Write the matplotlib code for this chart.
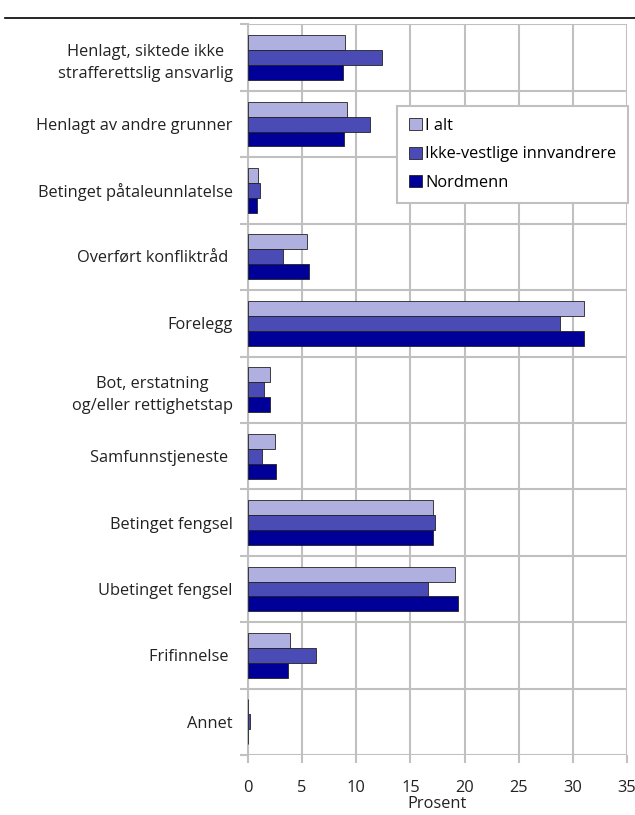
import numpy as np
import matplotlib
matplotlib.use("Agg")
from matplotlib import pyplot as plt
from matplotlib.lines import Line2D

plt.rcParams['font.family'] = ['Open Sans', 'DejaVu Sans']

categories = [
    "Henlagt, siktede ikke\nstrafferettslig ansvarlig",
    "Henlagt av andre grunner",
    "Betinget påtaleunnlatelse",
    "Overført konfliktråd ",
    "Forelegg",
    "Bot, erstatning\nog/eller rettighetstap",
    "Samfunnstjeneste ",
    "Betinget fengsel",
    "Ubetinget fengsel",
    "Frifinnelse ",
    "Annet",
]
i_alt = [9.0, 9.1, 0.95, 5.4, 31.0, 2.0, 2.5, 17.1, 19.1, 3.9, 0.02]
ikke_vestlige = [12.4, 11.3, 1.1, 3.2, 28.8, 1.5, 1.3, 17.25, 16.6, 6.3, 0.2]
nordmenn = [8.8, 8.9, 0.85, 5.6, 31.0, 2.0, 2.6, 17.1, 19.35, 3.7, 0.02]

series = [("I alt", i_alt, "#b0b0e0"),
          ("Ikke-vestlige innvandrere", ikke_vestlige, "#4b4bb5"),
          ("Nordmenn", nordmenn, "#000099")]

fs = 11.8
fig = plt.figure(figsize=(6.35, 8.15), dpi=100)
ax = fig.add_axes([0.3906, 0.0736, 0.5969, 0.8964])

y = np.arange(len(categories))
h = 0.225
for k, (name, vals, col) in enumerate(series):
    ax.barh(y + (k - 1) * h, vals, height=h, color=col, edgecolor="#222222",
            linewidth=0.6, label=name, zorder=3)

ax.set_xlim(0, 35)
ax.set_ylim(len(categories) - 0.5, -0.5)
ax.set_xticks(np.arange(0, 36, 5))
ax.set_yticks(y)
ax.set_yticklabels(categories, ha="right", multialignment="center", linespacing=1.55)
ax.set_yticks(np.arange(-0.5, len(categories), 1), minor=True)

grid_col = "#c0c0c0"
ax.grid(axis="x", color=grid_col, linewidth=1.5, zorder=0)
ax.grid(axis="y", which="minor", color=grid_col, linewidth=1.5, zorder=0)
ax.tick_params(axis="y", which="major", length=0, pad=11, labelsize=fs, colors="#222222")
ax.tick_params(axis="y", which="minor", length=6, width=1.5, color=grid_col)
ax.tick_params(axis="x", length=6, width=1.5, color=grid_col, pad=12,
               labelsize=fs, labelcolor="#222222")
for s in ["top", "right", "bottom"]:
    ax.spines[s].set_visible(False)
ax.spines["left"].set_color(grid_col)
ax.spines["left"].set_linewidth(1.5)
ax.set_xlabel("Prosent", fontsize=fs, color="#222222", labelpad=0)

leg = ax.legend(loc="upper right", bbox_to_anchor=(1.025, 0.9), fontsize=fs,
                frameon=True, fancybox=False, edgecolor=grid_col, framealpha=1,
                handlelength=0.75, handleheight=0.75, handletextpad=0.2,
                labelspacing=0.75, borderpad=0.75)
leg.get_frame().set_linewidth(1.5)
leg.set_zorder(5)

fig.add_artist(Line2D([0.008, 1.0], [0.978, 0.978], color="black", linewidth=1.2))

fig.savefig("out.png", dpi=100)
